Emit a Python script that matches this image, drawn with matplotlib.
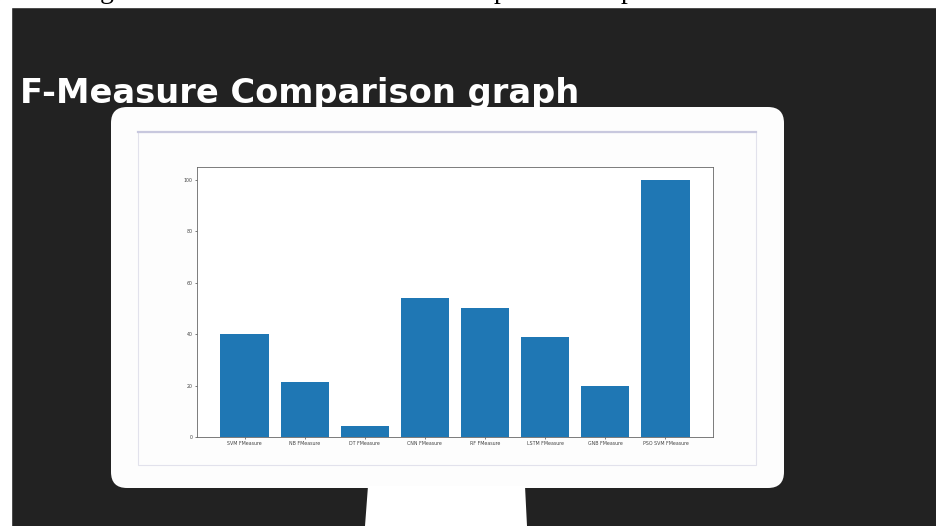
import matplotlib
matplotlib.use('Agg')
import matplotlib.pyplot as plt
from matplotlib.patches import Rectangle, FancyBboxPatch, Polygon

# values
categories = ['SVM FMeasure', 'NB FMeasure', 'DT FMeasure', 'CNN FMeasure',
              'RF FMeasure', 'LSTM FMeasure', 'GNB FMeasure', 'PSO SVM FMeasure']
fmeasure = [40, 21.3, 4.2, 54, 50, 39, 20, 100]
yticks = [0, 20, 40, 60, 80, 100]

W, H = 937, 526


def drawSlide(fig):
    """
        dark slide background, monitor frame and title (pixel coords)
    """
    bg = fig.add_axes([0, 0, 1, 1])
    bg.set_xlim(0, W)
    bg.set_ylim(H, 0)
    bg.axis('off')

    bg.add_patch(Rectangle((0, 0), W, H, color='#222222'))
    bg.add_patch(Rectangle((0, 0), W, 7, color='white'))   # top strip
    bg.add_patch(Rectangle((0, 0), 11, H, color='white'))  # left strip

    # cut off letters from the page above (only the descenders show)
    for x, ch in [(100, 'g'), (494, 'p'), (621, 'p')]:
        bg.text(x, -1.5, ch, family='Liberation Serif', fontsize=20,
                color='black', va='baseline', ha='left')

    # monitor body and stand
    bg.add_patch(FancyBboxPatch((111, 107), 673, 381,
                                boxstyle='round,pad=0,rounding_size=16',
                                facecolor='#fdfdfd', edgecolor='none'))
    bg.add_patch(Polygon([(368, 486), (525, 486), (527, H), (365, H)],
                         closed=True, facecolor='white', edgecolor='none'))

    # screen frame
    bg.add_patch(Rectangle((138, 132), 618, 333, facecolor='none',
                           edgecolor='#e2e2ec', lw=0.8))
    bg.plot([138, 756], [132, 132], color='#c8c8de', lw=1.6)

    bg.text(20, 103, 'F-Measure Comparison graph', color='white',
            fontsize=24.2, fontweight='bold', family='DejaVu Sans',
            va='baseline', ha='left')


def drawChart(fig):
    """
        the small bar chart shown on the monitor
    """
    left, right, top, bottom = 197, 713, 167, 437
    ax = fig.add_axes([left / W, (H - bottom) / H,
                       (right - left) / W, (bottom - top) / H])
    ax.bar(range(len(categories)), fmeasure, width=0.8, color='#1f77b4')
    ax.set_xticks(range(len(categories)))
    ax.set_xticklabels(categories)
    ax.set_yticks(yticks)
    ax.tick_params(labelsize=3.4, length=1.5, width=0.5, pad=1.5,
                   colors='#444444')
    for s in ax.spines.values():
        s.set_linewidth(0.6)
        s.set_color('#666666')


fig = plt.figure(figsize=(W / 100, H / 100), dpi=100)
drawSlide(fig)
drawChart(fig)
fig.savefig('out.png', dpi=100)
